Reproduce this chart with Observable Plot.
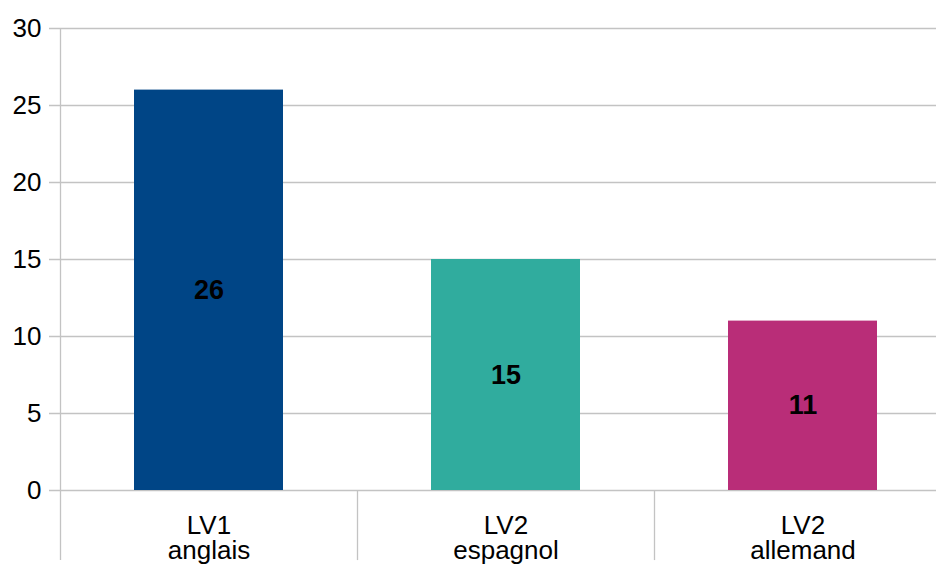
<!DOCTYPE html>
<html>
<head>
<meta charset="utf-8">
<script src="https://cdn.jsdelivr.net/npm/d3@7"></script>
<script src="https://cdn.jsdelivr.net/npm/@observablehq/plot@0.6"></script>
<style>
  html, body { margin: 0; padding: 0; background: #fff; }
  #chart svg { display: block; font-family: "Liberation Sans", Arial, sans-serif; }
</style>
</head>
<body>
<div id="chart"></div>
<script>
const categories = ["LV1\nanglais", "LV2\nespagnol", "LV2\nallemand"];
const values = [26, 15, 11];
const colors = ["#004586", "#30ac9e", "#b92d78"];
const yTicks = [0, 5, 10, 15, 20, 25, 30];

const data = categories.map((c, i) => ({cat: c, value: values[i], color: colors[i]}));

const width = 936, height = 568;
const xRange = [60, 951];
const step = (xRange[1] - xRange[0]) / categories.length;
const gridColor = "#c3c3c3";

const chart = Plot.plot({
  width, height,
  marginLeft: 49, marginRight: 0, marginTop: 28, marginBottom: 78,
  style: {fontFamily: "Liberation Sans, Arial, sans-serif", color: "#000", background: "#fff"},
  x: {type: "band", domain: categories, range: xRange, paddingInner: 0.5, paddingOuter: 0.25, label: null},
  y: {domain: [0, 30], ticks: yTicks, label: null},
  marks: [
    Plot.ruleY(yTicks, {stroke: gridColor, strokeWidth: 1.3}),
    Plot.barY(data, {x: "cat", y: "value", fill: "color"}),
    // left axis line
    Plot.ruleX([categories[0]], {dx: -step / 2, y1: 30, y2: -4.55, stroke: gridColor, strokeWidth: 1.3}),
    // category separators below the baseline
    Plot.ruleX(categories.slice(1), {dx: -step / 2, y1: 0, y2: -4.55, stroke: gridColor, strokeWidth: 1.3}),
    Plot.text(data, {x: "cat", y: d => d.value / 2, text: d => String(d.value), fontSize: 27, fontWeight: "bold", fill: "#000"}),
    Plot.axisY({ticks: yTicks, tickSize: 0, tickPadding: 8, fontSize: 26, fill: "#000", label: null}),
    Plot.axisX({tickSize: 0, tickPadding: 25, fontSize: 26, lineHeight: 0.98, fill: "#000", label: null})
  ]
});
document.getElementById("chart").appendChild(chart);
</script>
</body>
</html>
